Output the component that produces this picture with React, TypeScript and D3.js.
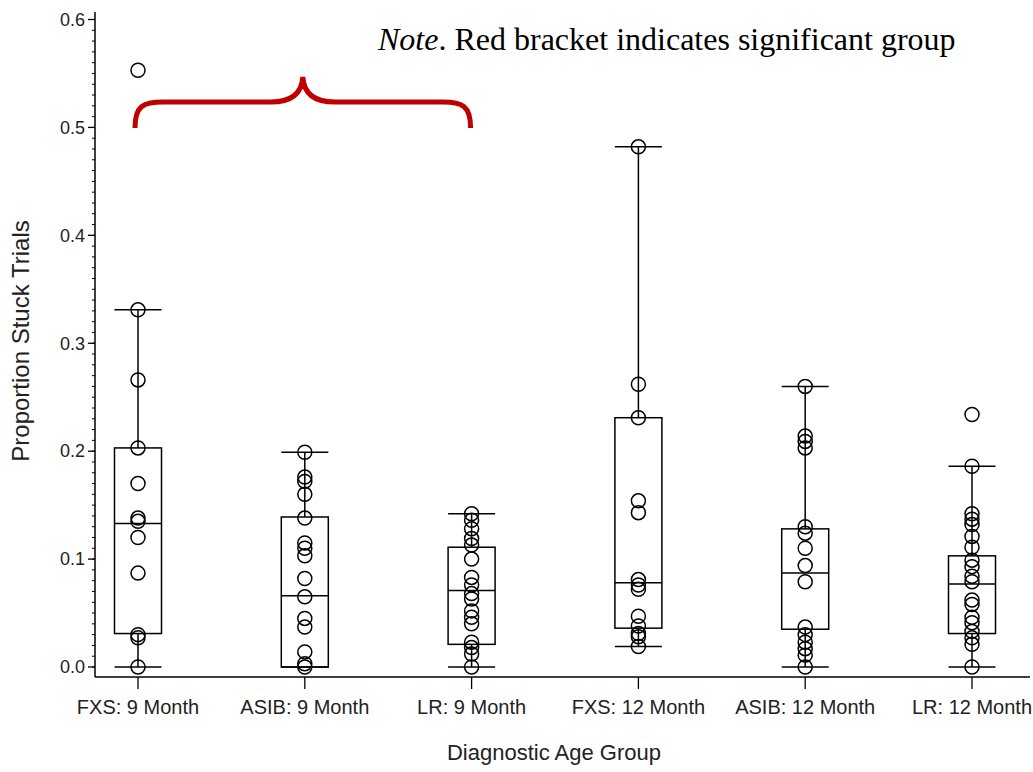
import React from "react";
import * as d3 from "d3";

// Diagnostic age groups along the x axis
const groups = [
  "FXS: 9 Month",
  "ASIB: 9 Month",
  "LR: 9 Month",
  "FXS: 12 Month",
  "ASIB: 12 Month",
  "LR: 12 Month",
];

// Individual proportions of stuck trials per group
const fxs9 = [0.553, 0.331, 0.266, 0.203, 0.17, 0.138, 0.135, 0.12, 0.087, 0.03, 0.027, 0.0];
const asib9 = [0.199, 0.176, 0.172, 0.16, 0.138, 0.115, 0.11, 0.103, 0.082, 0.065, 0.045, 0.037, 0.014, 0.003, 0.0];
const lr9 = [0.142, 0.136, 0.128, 0.119, 0.113, 0.1, 0.083, 0.076, 0.068, 0.063, 0.052, 0.046, 0.04, 0.023, 0.018, 0.012, 0.0];
const fxs12 = [0.482, 0.262, 0.231, 0.154, 0.143, 0.081, 0.076, 0.072, 0.047, 0.038, 0.031, 0.028, 0.019];
const asib12 = [0.26, 0.214, 0.209, 0.203, 0.13, 0.124, 0.11, 0.094, 0.079, 0.037, 0.03, 0.023, 0.017, 0.011, 0.0];
const lr12 = [0.234, 0.186, 0.142, 0.137, 0.132, 0.121, 0.111, 0.099, 0.093, 0.084, 0.079, 0.062, 0.058, 0.046, 0.041, 0.033, 0.027, 0.021, 0.0];
const points = [fxs9, asib9, lr9, fxs12, asib12, lr12];

// Box statistics per group: whisker low, Q1, median, Q3, whisker high
const whiskerLow = [0.0, 0.0, 0.0, 0.019, 0.0, 0.0];
const q1 = [0.031, 0.0, 0.021, 0.036, 0.035, 0.031];
const median = [0.133, 0.066, 0.071, 0.078, 0.087, 0.077];
const q3 = [0.203, 0.139, 0.111, 0.231, 0.128, 0.103];
const whiskerHigh = [0.331, 0.199, 0.142, 0.482, 0.26, 0.186];

// Axis ticks
const majorTicks = [0, 0.1, 0.2, 0.3, 0.4, 0.5, 0.6];
const minorTicks = d3.range(0, 61).map((i) => i / 100);

// Groups covered by the significance bracket
const bracketGroups = ["FXS: 9 Month", "LR: 9 Month"];

const W = 1033;
const H = 772;
const axisX = 95;
const axisY = 677;

export default function App() {
  const y = d3.scaleLinear().domain([0, 0.6]).range([667, 19.5]);
  const x = d3.scalePoint<string>().domain(groups).range([138, 972]);
  const boxW = 47;
  const sans = "'Liberation Sans', Arial, sans-serif";

  const bx0 = x(bracketGroups[0])! - 3;
  const bx1 = x(bracketGroups[1])! - 1;
  const bmid = (bx0 + bx1) / 2;
  const bEnd = 128;
  const bFlat = 102;
  const bPeak = 77;
  const brace = [
    `M${bx0},${bEnd}`,
    `C${bx0},${bFlat + 4} ${bx0 + 8},${bFlat} ${bx0 + 28},${bFlat}`,
    `L${bmid - 32},${bFlat}`,
    `C${bmid - 12},${bFlat} ${bmid - 1},${bFlat - 8} ${bmid},${bPeak}`,
    `C${bmid + 1},${bFlat - 8} ${bmid + 12},${bFlat} ${bmid + 32},${bFlat}`,
    `L${bx1 - 28},${bFlat}`,
    `C${bx1 - 8},${bFlat} ${bx1},${bFlat + 4} ${bx1},${bEnd}`,
  ].join(" ");

  return (
    <svg
      width={W}
      height={H}
      style={{ position: "absolute", left: 0, top: 0, background: "#fff" }}
    >
      <rect width={W} height={H} fill="#fff" />

      {/* y axis */}
      <line x1={axisX} x2={axisX} y1={12} y2={axisY} stroke="#000" strokeWidth={1.5} />
      {minorTicks.map((t, i) => (
        <line key={"mi" + i} x1={axisX - 3} x2={axisX} y1={y(t)} y2={y(t)} stroke="#000" strokeWidth={1} />
      ))}
      {majorTicks.map((t) => (
        <g key={"ma" + t}>
          <line x1={axisX - 7} x2={axisX} y1={y(t)} y2={y(t)} stroke="#000" strokeWidth={1.3} />
          <text
            x={axisX - 10}
            y={y(t)}
            dy="0.35em"
            textAnchor="end"
            fontFamily={sans}
            fontSize={18}
            fill="#222"
          >
            {t.toFixed(1)}
          </text>
        </g>
      ))}
      <text
        transform={`translate(29,${341}) rotate(-90)`}
        textAnchor="middle"
        fontFamily={sans}
        fontSize={24}
        fill="#222"
      >
        Proportion Stuck Trials
      </text>

      {/* x axis */}
      <line x1={axisX} x2={1030} y1={axisY} y2={axisY} stroke="#000" strokeWidth={1.5} />
      {groups.map((g) => (
        <g key={"xt" + g}>
          <line x1={x(g)!} x2={x(g)!} y1={axisY} y2={axisY + 12} stroke="#000" strokeWidth={1.3} />
          <text
            x={x(g)!}
            y={714}
            textAnchor="middle"
            fontFamily={sans}
            fontSize={20}
            fill="#222"
          >
            {g}
          </text>
        </g>
      ))}
      <text x={554} y={760} textAnchor="middle" fontFamily={sans} fontSize={22} fill="#222">
        Diagnostic Age Group
      </text>

      {/* boxes, whiskers and points */}
      {groups.map((g, i) => {
        const cx = x(g)!;
        return (
          <g key={"box" + g} stroke="#000" fill="none" strokeWidth={1.5}>
            <line x1={cx} x2={cx} y1={y(whiskerHigh[i])} y2={y(q3[i])} />
            <line x1={cx} x2={cx} y1={y(q1[i])} y2={y(whiskerLow[i])} />
            <line x1={cx - boxW / 2} x2={cx + boxW / 2} y1={y(whiskerHigh[i])} y2={y(whiskerHigh[i])} />
            <line x1={cx - boxW / 2} x2={cx + boxW / 2} y1={y(whiskerLow[i])} y2={y(whiskerLow[i])} />
            <rect x={cx - boxW / 2} y={y(q3[i])} width={boxW} height={y(q1[i]) - y(q3[i])} />
            <line x1={cx - boxW / 2} x2={cx + boxW / 2} y1={y(median[i])} y2={y(median[i])} />
            {points[i].map((v, j) => (
              <circle key={j} cx={cx} cy={y(v)} r={7} strokeWidth={1.5} />
            ))}
          </g>
        );
      })}

      {/* significance bracket */}
      <path d={brace} fill="none" stroke="#c00000" strokeWidth={5} strokeLinecap="butt" />

      <text x={378} y={50} fontFamily="'Liberation Serif', 'Times New Roman', serif" fontSize={32} fill="#000">
        <tspan fontStyle="italic">Note</tspan>. Red bracket indicates significant group
      </text>
    </svg>
  );
}
